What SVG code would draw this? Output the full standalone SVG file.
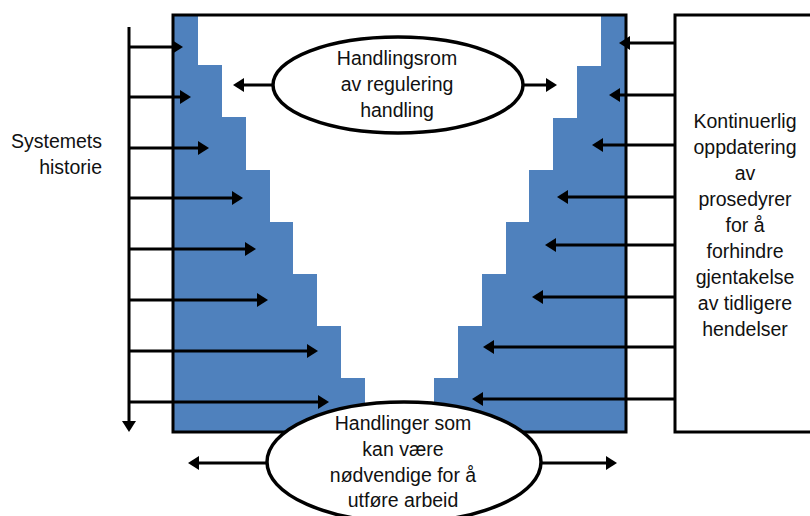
<svg xmlns="http://www.w3.org/2000/svg" width="810" height="516" viewBox="0 0 810 516">
  <style>
    .stair { fill: #4f81bd; stroke: none; }
    .frame { fill: none; stroke: #000; stroke-width: 3; }
    .box { fill: #fff; stroke: #000; stroke-width: 3; }
    .oval { fill: #fff; stroke: #000; stroke-width: 3.5; }
    .arrow { fill: none; stroke: #000; stroke-width: 3; marker-end: url(#head); }
    .axis { fill: none; stroke: #000; stroke-width: 3; }
    text { font-family: "Liberation Sans", Arial, sans-serif; font-size: 19.5px; fill: #111; }
    .c { text-anchor: middle; }
    .r { text-anchor: end; }
  </style>
  <defs>
    <marker id="head" markerUnits="userSpaceOnUse" markerWidth="12" markerHeight="15" refX="4" refY="7" orient="auto" viewBox="0 0 12 15">
      <path d="M0,0 L11,7 L0,14 Z" fill="#000"/>
    </marker>
  </defs>

  <!-- left timeline with its label -->
  <g id="history">
    <line class="axis arrow" x1="129" y1="27" x2="129" y2="425"/>
    <text class="r" x="102" y="148">Systemets</text>
    <text class="r" x="102" y="174">historie</text>
  </g>

  <!-- central work area: two blue staircases inside a frame -->
  <g id="workspace">
    <polygon class="stair" points="173,15 198,15 198,65 222,65 222,117 246,117 246,170 270,170 270,222 293,222 293,274 317,274 317,326 341,326 341,378 365,378 365,432 173,432"/>
    <polygon class="stair" points="626,15 601,15 601,66 577,66 577,118 553,118 553,170 529,170 529,222 506,222 506,274 482,274 482,326 458,326 458,378 434,378 434,432 626,432"/>
    <rect class="frame" x="173" y="15" width="453" height="417"/>
  </g>

  <!-- right procedure box -->
  <g id="procedures">
    <rect class="box" x="675" y="15" width="150" height="417"/>
    <text class="c" x="745" y="128">Kontinuerlig</text>
    <text class="c" x="745" y="154">oppdatering</text>
    <text class="c" x="745" y="180">av</text>
    <text class="c" x="745" y="206">prosedyrer</text>
    <text class="c" x="745" y="232">for å</text>
    <text class="c" x="745" y="258">forhindre</text>
    <text class="c" x="745" y="284">gjentakelse</text>
    <text class="c" x="745" y="310">av tidligere</text>
    <text class="c" x="745" y="336">hendelser</text>
  </g>

  <!-- connectors -->
  <g id="connectors">
    <!-- history feeding the left staircase -->
    <line class="arrow" x1="129" y1="47" x2="176" y2="47"/>
    <line class="arrow" x1="129" y1="97" x2="184" y2="97"/>
    <line class="arrow" x1="129" y1="148" x2="202" y2="148"/>
    <line class="arrow" x1="129" y1="198" x2="236" y2="198"/>
    <line class="arrow" x1="129" y1="249" x2="249" y2="249"/>
    <line class="arrow" x1="129" y1="300" x2="261" y2="300"/>
    <line class="arrow" x1="129" y1="351" x2="311" y2="351"/>
    <line class="arrow" x1="129" y1="402" x2="322" y2="402"/>
    <!-- procedures feeding the right staircase -->
    <line class="arrow" x1="675" y1="43" x2="626" y2="43"/>
    <line class="arrow" x1="675" y1="95" x2="616" y2="95"/>
    <line class="arrow" x1="675" y1="145" x2="599" y2="145"/>
    <line class="arrow" x1="675" y1="197" x2="564" y2="197"/>
    <line class="arrow" x1="675" y1="245" x2="552" y2="245"/>
    <line class="arrow" x1="675" y1="297" x2="539" y2="297"/>
    <line class="arrow" x1="675" y1="347" x2="490" y2="347"/>
    <line class="arrow" x1="675" y1="399" x2="479" y2="399"/>
    <!-- spread of the two ovals -->
    <line class="arrow" x1="274" y1="85" x2="240" y2="85"/>
    <line class="arrow" x1="522" y1="85" x2="550" y2="85"/>
    <line class="arrow" x1="268" y1="463" x2="195" y2="463"/>
    <line class="arrow" x1="541" y1="463" x2="610" y2="463"/>
  </g>

  <!-- upper oval -->
  <g id="regulated-space">
    <ellipse class="oval" cx="398" cy="85" rx="125" ry="48"/>
    <text class="c" x="397" y="65">Handlingsrom</text>
    <text class="c" x="397" y="91">av regulering</text>
    <text class="c" x="397" y="117">handling</text>
  </g>

  <!-- lower oval -->
  <g id="necessary-actions">
    <ellipse class="oval" cx="404" cy="462" rx="137" ry="60"/>
    <text class="c" x="403" y="430">Handlinger som</text>
    <text class="c" x="403" y="456">kan være</text>
    <text class="c" x="403" y="482">nødvendige for å</text>
    <text class="c" x="403" y="507">utføre arbeid</text>
  </g>
</svg>
